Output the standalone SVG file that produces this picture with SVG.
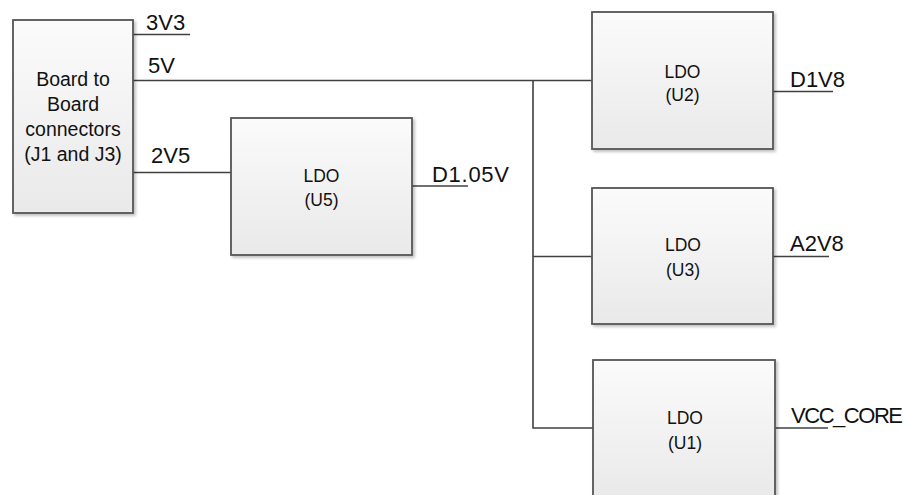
<svg xmlns="http://www.w3.org/2000/svg" width="906" height="495" viewBox="0 0 906 495">
<defs>
<linearGradient id="g" x1="0" y1="0" x2="0" y2="1">
<stop offset="0" stop-color="#fbfbfb"/>
<stop offset="1" stop-color="#e9e9e9"/>
</linearGradient>
<filter id="sh" x="-5%" y="-5%" width="115%" height="115%">
<feGaussianBlur in="SourceAlpha" stdDeviation="1.5"/>
<feOffset dx="2" dy="2" result="b"/>
<feComponentTransfer><feFuncA type="linear" slope="0.25"/></feComponentTransfer>
<feMerge><feMergeNode/><feMergeNode in="SourceGraphic"/></feMerge>
</filter>
</defs>
<style>
.box{fill:url(#g);stroke:#555;stroke-width:1.8;filter:url(#sh)}
.w{fill:none;stroke:#404040;stroke-width:1.6}
.nt{font-family:"Liberation Sans",Arial,sans-serif;font-size:17.5px;fill:#111;text-anchor:middle}
.bt{font-size:19.5px}
.lb{font-family:"Liberation Sans",Arial,sans-serif;font-size:22px;fill:#111}
</style>
<rect width="906" height="495" fill="#fff"/>
<g id="connectors">
<path class="w" d="M133 34.5H190"/>
<path class="w" d="M133 80.5H592"/>
<path class="w" d="M533 80.5V428H593"/>
<path class="w" d="M533 256.5H592"/>
<path class="w" d="M133 172.5H231"/>
<path class="w" d="M412 186H468"/>
<path class="w" d="M773 91.5H833"/>
<path class="w" d="M773 256.5H829"/>
<path class="w" d="M775 428H828"/>
</g>
<g id="labels">
<text class="lb" x="146" y="30">3V3</text>
<text class="lb" x="148" y="73">5V</text>
<text class="lb" x="151" y="163">2V5</text>
<text class="lb" x="432" y="182" textLength="77">D1.05V</text>
<text class="lb" x="790" y="87">D1V8</text>
<text class="lb" x="790" y="251">A2V8</text>
<text class="lb" x="791" y="423" textLength="112">VCC_CORE</text>
</g>
<g id="board">
<rect class="box" x="13" y="20" width="120" height="193"/>
<text class="nt bt" x="73" y="86">Board to</text>
<text class="nt bt" x="73" y="111">Board</text>
<text class="nt bt" x="73" y="136">connectors</text>
<text class="nt bt" x="73" y="161">(J1 and J3)</text>
</g>
<g id="u5">
<rect class="box" x="231" y="118" width="181" height="137"/>
<text class="nt" x="321.5" y="182">LDO</text>
<text class="nt" x="321.5" y="206">(U5)</text>
</g>
<g id="u2">
<rect class="box" x="592" y="12" width="181" height="137"/>
<text class="nt" x="682.5" y="78">LDO</text>
<text class="nt" x="682.5" y="101">(U2)</text>
</g>
<g id="u3">
<rect class="box" x="592" y="188" width="181" height="136"/>
<text class="nt" x="683" y="251">LDO</text>
<text class="nt" x="683" y="276">(U3)</text>
</g>
<g id="u1">
<rect class="box" x="593" y="360" width="182" height="140"/>
<text class="nt" x="685" y="424">LDO</text>
<text class="nt" x="685" y="449">(U1)</text>
</g>
</svg>
